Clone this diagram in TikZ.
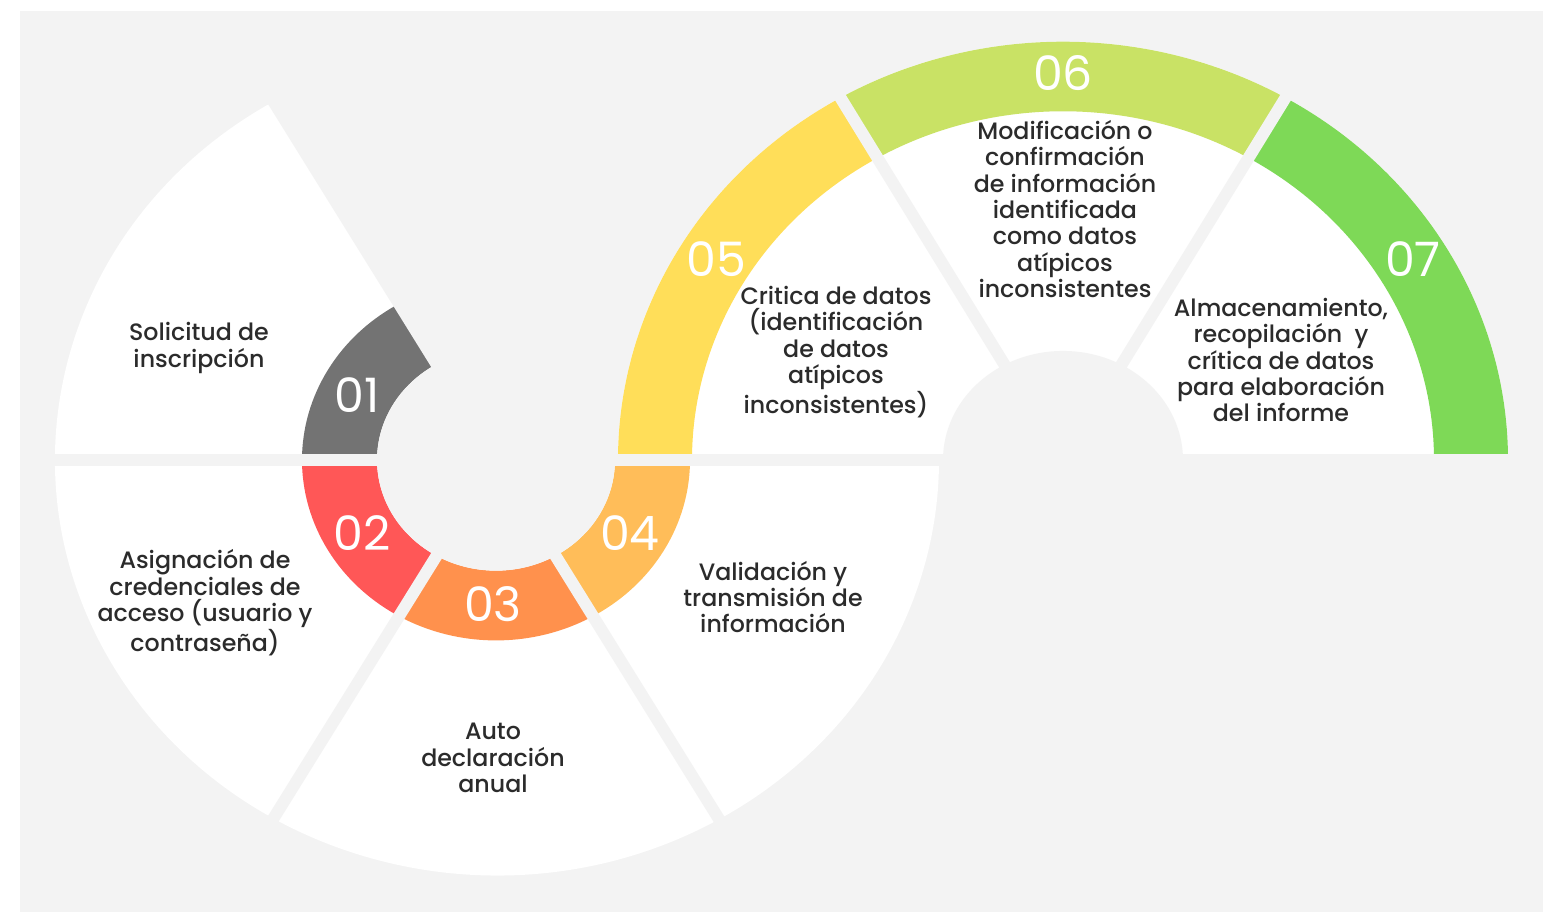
\documentclass[tikz,border=0pt]{standalone}
\usepackage{fontspec}
\setmainfont{Poppins}
\newfontfamily\stagefont{Poppins}[UprightFont=* Medium]
\usepackage{xcolor}
\usetikzlibrary{positioning,calc}

\definecolor{bggray}{HTML}{F3F3F3}
\definecolor{txtgray}{HTML}{2B2B2B}
\definecolor{segA}{HTML}{737373}
\definecolor{segB}{HTML}{FF5757}
\definecolor{segC}{HTML}{FF914D}
\definecolor{segD}{HTML}{FFBD59}
\definecolor{segE}{HTML}{FFDE59}
\definecolor{segF}{HTML}{C9E265}
\definecolor{segG}{HTML}{7ED957}

\begin{document}
\begin{tikzpicture}[x=0.02cm, y=0.02cm]
  % Define styles
  \tikzstyle{stage} = [align=center, text=txtgray, font=\stagefont\fontsize{13.5}{15}\selectfont]
  \tikzstyle{number} = [text=white, font=\fontsize{27}{27}\selectfont]
  \tikzstyle{gap} = [draw=bggray, line width=6.8pt]

  % Canvas
  \useasboundingbox (0,0) rectangle (1553,914);
  \fill[white] (0,0) rectangle (1553,914);
  \fill[bggray] (20,2) rectangle (1543,903);

  % Left half ring (steps 01-04)
  \begin{scope}[shift={(497,454)}, yscale=0.94]
    \fill[white] (0,0) -- (120:442) arc (120:360:442) -- cycle;
  \end{scope}
  \begin{scope}[shift={(496,454)}, yscale=0.93]
    \fill[segA] (120:194) arc (120:180:194) -- (180:119) arc (180:120:119) -- cycle;
    \fill[segB] (180:194) arc (180:240:194) -- (240:119) arc (240:180:119) -- cycle;
    \fill[segC] (240:194) arc (240:300:194) -- (300:119) arc (300:240:119) -- cycle;
    \fill[segD] (300:194) arc (300:360:194) -- (360:119) arc (360:300:119) -- cycle;
    \draw[gap] (0,0) -- (120:470) (0,0) -- (240:470) (0,0) -- (300:470);
    \fill[bggray] (0,0) circle[radius=119];
  \end{scope}

  % Right half ring (steps 05-07)
  \begin{scope}[shift={(1063,454)}, yscale=0.94]
    \fill[white] (0,0) -- (0:445) arc (0:180:445) -- cycle;
    \fill[segG] (0:445) arc (0:60:445) -- (60:371) arc (60:0:371) -- cycle;
    \fill[segF] (60:445) arc (60:120:445) -- (120:371) arc (120:60:371) -- cycle;
    \fill[segE] (120:445) arc (120:180:445) -- (180:371) arc (180:120:371) -- cycle;
    \draw[gap] (0,0) -- (60:470) (0,0) -- (120:470);
    \fill[bggray] (0,0) circle[x radius=120, y radius=116];
  \end{scope}

  % Base line
  \draw[gap] (40,454) -- (1530,454);

  % Step numbers
  \node[number] (n01) at (357,519) {01};
  \node[number] (n02) at (362,381) {02};
  \node[number] (n03) at (493,310) {03};
  \node[number] (n04) at (630,381) {04};
  \node[number] (n05) at (716,655) {05};
  \node[number] (n06) at (1063,841) {06};
  \node[number] (n07) at (1413,655) {07};

  % Step texts
  \node[stage] (solicitud) at (199,566) {Solicitud de\\inscripción};
  \node[stage] (asignacion) at (205,311) {Asignación de\\credenciales de\\acceso (usuario y\\contraseña)};
  \node[stage] (auto) at (493,156) {Auto\\declaración\\anual};
  \node[stage] (validacion) at (773,317) {Validación y\\transmisión de\\información};
  \node[stage] (critica) at (836,562) {Critica de datos\\(identificación\\de datos\\atípicos\\inconsistentes)};
  \node[stage] (modificacion) at (1065,705) {Modificación o\\confirmación\\de información\\identificada\\como datos\\atípicos\\inconsistentes};
  \node[stage] (almacen) at (1281,554) {Almacenamiento,\\recopilación\ \ y\\crítica de datos\\para elaboración\\del informe};
\end{tikzpicture}
\end{document}
